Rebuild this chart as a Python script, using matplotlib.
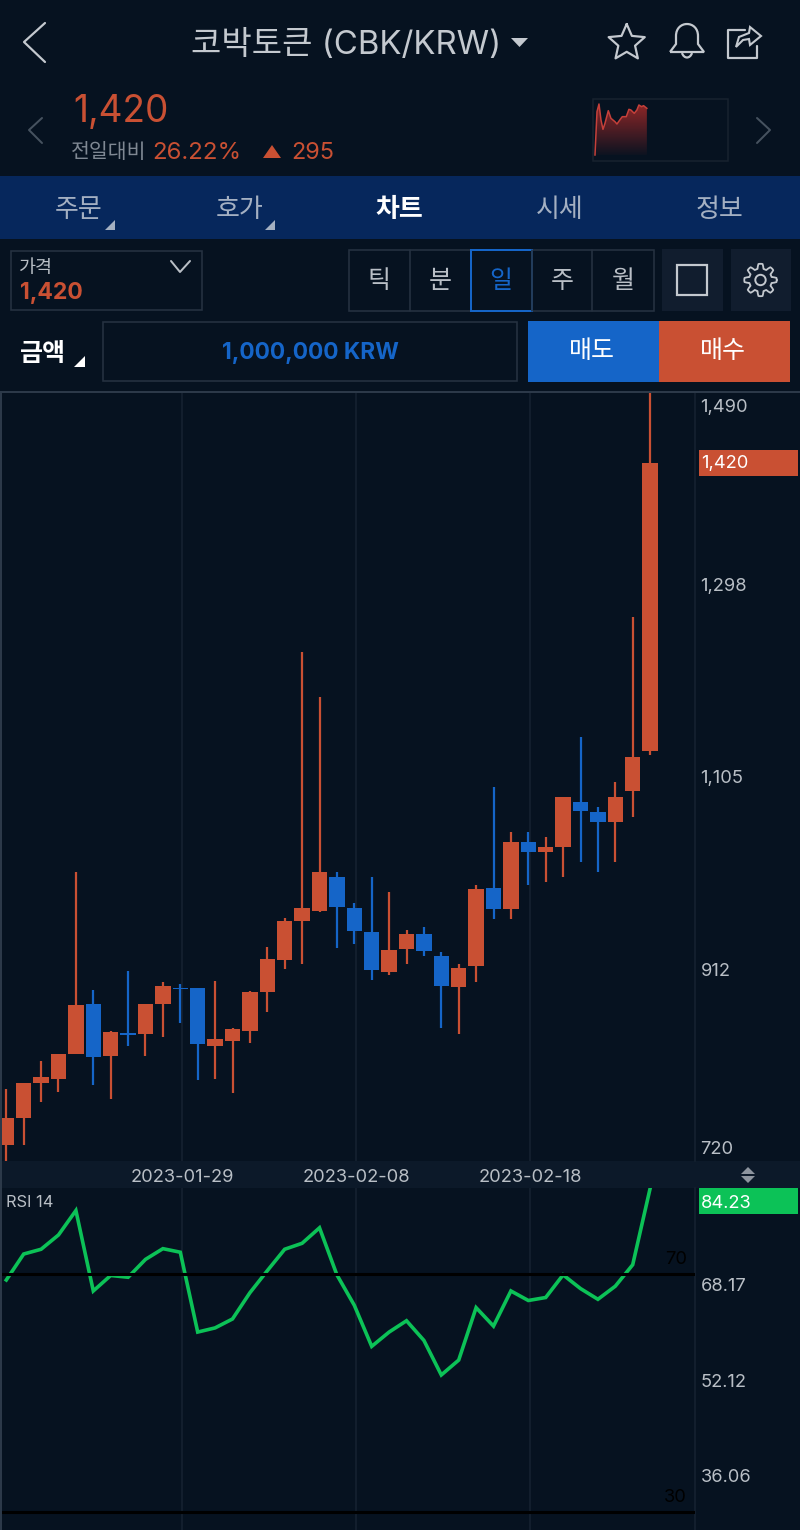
import numpy as np
import matplotlib
matplotlib.use('Agg')
import matplotlib.pyplot as plt
from matplotlib.patches import Rectangle, Polygon, Circle, PathPatch
from matplotlib.path import Path

plt.rcParams['font.family'] = ['Inter', 'Noto Sans CJK KR', 'DejaVu Sans']

# ---------- data ----------
opens  = [736,763,798,802,827,877,825,848,847,877,893,893,835,840,850,889,922,961,971,1005,
          974,950,909,933,948,926,894,916,994,973,1040,1030,1035,1080,1070,1060,1091,1131]
highs  = [792,798,820,827,1010,891,850,910,877,899,897,893,900,853,890,935,964,1230,1185,1010,
          979,1005,990,952,955,930,918,997,1095,1050,1050,1045,1085,1145,1075,1100,1265,1500]
lows   = [720,736,779,789,827,796,782,835,825,844,858,801,802,788,838,869,912,918,970,934,
          938,901,906,918,926,853,847,899,963,963,997,1000,1005,1020,1010,1020,1065,1127]
closes = [763,798,804,827,876,824,849,846,877,895,892,837,842,852,889,923,961,974,1010,975,
          951,911,932,948,931,895,914,993,973,1040,1030,1035,1085,1071,1060,1085,1125,1420]
rsi    = [68.94,73.3,74.1,76.5,80.6,67.1,69.7,69.4,72.4,74.2,73.6,60.2,60.9,62.4,66.8,70.5,74.1,75.1,77.7,69.8,
          64.7,57.8,60.2,62.1,58.8,53.0,55.5,64.3,61.2,67.1,65.5,66.0,69.8,67.5,65.7,67.9,71.5,84.3]
date_idx    = [10, 20, 30]
date_labels = ['2023-01-29', '2023-02-08', '2023-02-18']
price_ticks = [1298, 1105, 912]
rsi_ticks   = [68.17, 52.12, 36.06]
rsi_bands   = [70, 30]
spark_t = [30,36,42,48,54,60,70,78,90,96,106,112,124,132,138,148,156,162,170,176,186]
spark_v = [0,130,153,105,77,95,133,110,100,93,107,115,115,137,135,125,135,150,145,148,140]

# ---------- colours ----------
BG='#061220'; ORANGE='#c95033'; BLUE='#1565c8'; GREEN='#0cc257'; NAV='#06275c'
BORDER='#263241'; GRID='#162231'; TXT='#b9bfc6'; DIM='#7f8893'; BAND='#0c1929'; BTN='#111d2e'
EDGE='#2c3949'
TICK = 18.3

W, H = 800, 1530
fig = plt.figure(figsize=(W/100, H/100), dpi=100, facecolor=BG)

def px_axes(x0, y0, x1, y1, **kw):
    return fig.add_axes([x0/W, 1-y1/H, (x1-x0)/W, (y1-y0)/H], **kw)

root = px_axes(0, 0, W, H)
root.set_xlim(0, W); root.set_ylim(H, 0); root.axis('off')

def fs(p): return p*0.72
def T(x, y, s, size, color=TXT, ha='left', weight='normal', **kw):
    return root.text(x, y+2.5, s, fontsize=fs(size), color=color, ha=ha, va='center', fontweight=weight, **kw)
def R(x0, y0, x1, y1, fc='none', ec='none', lw=0, z=1):
    root.add_patch(Rectangle((x0, y0), x1-x0, y1-y0, fc=fc, ec=ec, lw=lw*0.72, zorder=z))
def L(pts, color=TXT, lw=2, z=3):
    xs, ys = zip(*pts)
    root.plot(xs, ys, color=color, lw=lw*0.72, zorder=z, solid_capstyle='round', solid_joinstyle='round')
def TRI(pts, c, z=3):
    root.add_patch(Polygon(pts, closed=True, fc=c, ec='none', zorder=z))

# header
L([(45,23),(24,42),(45,62)], '#c4c9cf', 2.2)
T(191, 43, '코박토큰 (CBK/KRW)', 33, '#c4c9cf')
TRI([(511,38),(528,38),(519.5,47)], '#c4c9cf')
a = np.arange(11)*np.pi/5 - np.pi/2
r = np.where(np.arange(11) % 2 == 0, 19, 8.8)
L(list(zip(626.7+r*np.cos(a), 43+r*np.sin(a))), '#c4c9cf', 2.2)
root.add_patch(PathPatch(Path([(670,52),(676,44),(676,36),(676,20),(698,20),(698,36),(698,44),(704,52),(670,52)],
    [1,2,2,4,4,4,2,2,2]), fc='none', ec='#c4c9cf', lw=1.6, zorder=3))
root.add_patch(PathPatch(Path([(682,53),(684,59),(690,59),(692,53)],[1,4,4,4]), fc='none', ec='#c4c9cf', lw=1.6, zorder=3))
L([(745,30),(728,30),(728,58),(757,58),(757,46)], '#c4c9cf', 2.2)
root.add_patch(Polygon([(736,47),(739,37),(749,33),(750,27),(761,36),(750,45),(749,39),(743,40)], closed=True,
    fc='none', ec='#c4c9cf', lw=1.5, zorder=3))

# price strip
L([(42,118),(29,130),(42,143)], '#46525f', 2)
L([(757,118),(770,130),(757,143)], '#46525f', 2)
T(73, 109, '1,420', 37, ORANGE)
T(71, 150, '전일대비', 20.5, DIM)
T(152.5, 150, '26.22%', 24, ORANGE)
TRI([(263,158),(281,158),(272,145)], ORANGE)
T(291.5, 150, '295', 23.5, ORANGE)

# sparkline
R(593, 99, 728, 161, ec='#18222f', lw=1.5)
sp = px_axes(594, 100, 728, 160)
sp.set_xlim(27, 430); sp.set_ylim(-15, 165); sp.axis('off')
grad = np.zeros((100, 2, 4))
grad[..., 0] = 0.60; grad[..., 1] = 0.16; grad[..., 2] = 0.16
grad[..., 3] = np.linspace(0.95, 0.05, 100)[:, None]
im = sp.imshow(grad, extent=[27, 430, 0, 155], aspect='auto', origin='upper', zorder=1)
poly = Polygon(list(zip(spark_t, spark_v)) + [(spark_t[-1], 0), (spark_t[0], 0)], closed=True,
               transform=sp.transData, fc='none', ec='none')
sp.add_patch(poly); im.set_clip_path(poly)
sp.set_xlim(27, 430); sp.set_ylim(-15, 165)
sp.plot(spark_t, spark_v, color='#c4403a', lw=1.1, zorder=2)

# nav bar
R(0, 176, W, 239, fc=NAV)
for x, s, c, w in [(79,'주문','#a4b0c2','normal'),(240,'호가','#a4b0c2','normal'),(399,'차트','white','bold'),
                   (560,'시세','#a4b0c2','normal'),(719,'정보','#a4b0c2','normal')]:
    T(x, 207, s, 26, c, ha='center', weight=w)
TRI([(105,230),(115,230),(115,220)], '#a4b0c2')
TRI([(265,230),(275,230),(275,220)], '#a4b0c2')

# control row
R(10.5, 250.5, 202, 310, ec=BORDER, lw=1.6)
T(19, 266, '가격', 18.5, TXT)
T(20, 290, '1,420', 23, ORANGE, weight='bold')
L([(171,261),(180,272),(190,261)], TXT, 2)
R(348.5, 250, 654, 311, ec=BORDER, lw=1.6)
for x in (410, 592, 532):
    L([(x,250),(x,311)], BORDER, 1.6)
for x, s, c in [(379,'틱',TXT),(440,'분',TXT),(501,'일',BLUE),(562,'주',TXT),(623,'월',TXT)]:
    T(x, 279, s, 25, c, ha='center')
R(470.5, 250, 532, 311, ec=BLUE, lw=2, z=2)
R(662, 249, 723, 311, fc=BTN)
R(731, 249, 791, 311, fc=BTN)
R(677, 265, 707, 295, ec='#c4c9cf', lw=2.2, z=3)
th = np.linspace(0, 2*np.pi, 8*12+1)
gr = 13.8 + 2.4*np.clip(1.9*np.cos(8*th), -1, 1)
L(list(zip(760.5+gr*np.cos(th), 280+gr*np.sin(th))), '#c4c9cf', 1.8)
root.add_patch(Circle((760.5, 280), 5.2, fc='none', ec='#c4c9cf', lw=1.4, zorder=3))

# order row
T(20, 352, '금액', 25, 'white', weight='bold')
TRI([(74,367),(85,367),(85,356)], 'white')
R(102.5, 322, 517, 381, ec=BORDER, lw=1.6)
T(310, 350, '1,000,000 KRW', 22.8, BLUE, ha='center', weight='bold')
R(528, 321, 659, 382, fc=BLUE)
R(659, 321, 790, 382, fc=ORANGE)
T(592, 349, '매도', 25, 'white', ha='center')
T(723, 349, '매수', 25, 'white', ha='center')

# chart frame / date strip
R(2, 1161, W, 1188, fc=BAND)
TRI([(741,1174),(755,1174),(748,1167)], '#8d949e')
TRI([(741,1176),(755,1176),(748,1183)], '#8d949e')

# ---------- price pane ----------
xv = np.arange(len(closes))
XLIM = (-0.247, 39.58)
ax = px_axes(2, 392, 695, 1161, facecolor=BG)
ax.set_xlim(*XLIM); ax.set_ylim(720, 1491)
o, h, l, c = map(np.asarray, (opens, highs, lows, closes))
cols = np.where(c >= o, ORANGE, BLUE)
ax.vlines(xv, l, h, colors=cols, lw=1.6, zorder=3)
bot = np.minimum(o, c); hgt = np.maximum(np.abs(c-o), 1.5)
ax.bar(xv, hgt, bottom=bot, width=0.885, color=cols, lw=0, zorder=4)
gx = [i+0.12 for i in date_idx]
ax.set_xticks(gx, date_labels)
ax.tick_params(axis='x', length=0, pad=5.5, labelsize=fs(TICK), labelcolor=TXT)
ax.grid(axis='x', color=GRID, lw=1.1, zorder=0)
ax.yaxis.tick_right()
ax.set_yticks(price_ticks, [f'{v:,}' for v in price_ticks])
ax.tick_params(axis='y', length=0, pad=3.9, labelsize=fs(TICK), labelcolor=TXT)
for s in ('top', 'left', 'bottom'):
    ax.spines[s].set_visible(False)
ax.spines['right'].set_color(GRID); ax.spines['right'].set_linewidth(1.1)
ytr = ax.get_yaxis_transform()
ax.add_patch(Rectangle((1.0058, 1407), 0.1428, 26, transform=ytr, fc=ORANGE, ec='none', clip_on=False, zorder=5))
ax.text(1.0087, closes[-1]-1, f'{closes[-1]:,}', transform=ytr, fontsize=fs(TICK), color='white', va='center', clip_on=False, zorder=6)
ax.annotate('1,490', (1, 1491), xycoords=ytr, xytext=(5.5, -16), textcoords='offset pixels', fontsize=fs(TICK), color=TXT, va='center', annotation_clip=False)
ax.annotate('720', (1, 720), xycoords=ytr, xytext=(5.5, 11), textcoords='offset pixels', fontsize=fs(TICK), color=TXT, va='center', annotation_clip=False)

# ---------- RSI pane ----------
rx = px_axes(2, 1188, 695, 1530, facecolor=BG)
rx.set_xlim(*XLIM); rx.set_ylim(26.98, 84.38)
rx.plot(xv, rsi, color=GREEN, lw=2.6, zorder=3, solid_joinstyle='miter')
for b in rsi_bands:
    rx.axhline(b, color='black', lw=2.2, zorder=4)
    rx.annotate(str(b), (1, b), xycoords=rx.get_yaxis_transform(), xytext=(-8, 14.5), textcoords='offset pixels',
                fontsize=fs(TICK), color='black', ha='right', va='center', zorder=5, annotation_clip=False)
rx.set_xticks(gx, [''] * len(gx))
rx.tick_params(axis='x', length=0)
rx.grid(axis='x', color=GRID, lw=1.1, zorder=0)
rx.yaxis.tick_right()
rx.set_yticks(rsi_ticks, [f'{v:.2f}' for v in rsi_ticks])
rx.tick_params(axis='y', length=0, pad=3.9, labelsize=fs(TICK), labelcolor=TXT)
for s in ('top', 'left', 'bottom'):
    rx.spines[s].set_visible(False)
rx.spines['right'].set_color(GRID); rx.spines['right'].set_linewidth(1.1)
rx.text(0.006, 0.959, 'RSI 14', transform=rx.transAxes, fontsize=fs(16.5), color=TXT, va='center')
ytr2 = rx.get_yaxis_transform()
rx.add_patch(Rectangle((1.0058, 84.38-26/5.96), 0.1428, 26/5.96, transform=ytr2, fc=GREEN, ec='none', clip_on=False, zorder=5))
rx.annotate('84.23', (1.0087, 84.38), xycoords=ytr2, xytext=(0, -16), textcoords='offset pixels', fontsize=fs(TICK),
            color='white', va='center', zorder=6, annotation_clip=False)

# frame edges over the panes
root2 = px_axes(0, 0, W, H)
root2.set_xlim(0, W); root2.set_ylim(H, 0); root2.axis('off'); root2.patch.set_alpha(0)
root2.add_patch(Rectangle((0, 390.5), W, 2, fc=EDGE, ec='none'))
root2.add_patch(Rectangle((0, 391), 2, H-391, fc=EDGE, ec='none'))

fig.savefig('out.png', dpi=100, facecolor=BG)
